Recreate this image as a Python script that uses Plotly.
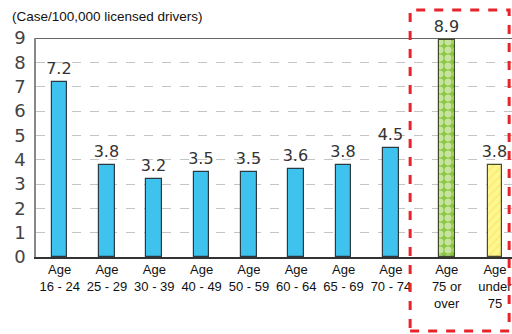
import plotly.graph_objects as go

categories = ["Age<br>16 - 24", "Age<br>25 - 29", "Age<br>30 - 39", "Age<br>40 - 49",
              "Age<br>50 - 59", "Age<br>60 - 64", "Age<br>65 - 69", "Age<br>70 - 74",
              "Age<br>75 or<br>over", "Age<br>under<br>75"]
values = [7.2, 3.8, 3.2, 3.5, 3.5, 3.6, 3.8, 4.5, 8.9, 3.8]
positions = [0, 1, 2, 3, 4, 5, 6, 7, 8.18, 9.2]
y_ticks = [0, 1, 2, 3, 4, 5, 6, 7, 8, 9]

label_font = dict(family="DejaVu Sans", size=16, color="#333")

fig = go.Figure()

fig.add_trace(go.Bar(
    x=positions[:8], y=values[:8], width=0.33,
    marker=dict(color="#3EC3EE", line=dict(color="#2B3A40", width=1.2)),
    text=[f"{v:.1f}" for v in values[:8]], textposition="outside",
    textfont=label_font, constraintext="none",
    cliponaxis=False, showlegend=False,
))
fig.add_trace(go.Bar(
    x=[positions[8]], y=[values[8]], width=0.33,
    marker=dict(color="#8DC63F", line=dict(color="#3A4A2A", width=1.2),
                pattern=dict(shape=".", bgcolor="#8DC63F", fgcolor="#FFFFFF",
                             size=8, solidity=0.6, fillmode="overlay")),
    text=[f"{values[8]:.1f}"], textposition="outside",
    textfont=label_font, constraintext="none",
    cliponaxis=False, showlegend=False,
))
fig.add_trace(go.Bar(
    x=[positions[9]], y=[values[9]], width=0.30,
    marker=dict(color="#FFF68F", line=dict(color="#4A4A30", width=1.2),
                pattern=dict(shape="/", bgcolor="#FFF68F", fgcolor="#F2E35A",
                             size=6, solidity=0.3, fillmode="overlay")),
    text=[f"{values[9]:.1f}"], textposition="outside",
    textfont=label_font, constraintext="none",
    cliponaxis=False, showlegend=False,
))

fig.update_layout(
    width=512, height=334,
    margin=dict(l=36, r=0, t=38, b=77),
    paper_bgcolor="white", plot_bgcolor="white",
    bargap=0,
    xaxis=dict(
        range=[-0.5, 9.56], tickmode="array", tickvals=positions, ticktext=categories,
        tickfont=dict(family="Liberation Sans, Arial", size=13, color="#111"),
        showline=True, linecolor="#333", linewidth=1.5, showgrid=False, zeroline=False,
        ticks="", fixedrange=True, ticklabeloverflow="allow",
    ),
    yaxis=dict(
        range=[0, 9], tickvals=y_ticks,
        tickfont=dict(family="DejaVu Sans", size=18, color="#444"),
        showline=True, linecolor="#888", linewidth=1.5,
        showgrid=True, gridcolor="#C4C4C4", griddash="dash", gridwidth=1,
        zeroline=False, ticks="", ticklabelstandoff=5,
    ),
    font=dict(family="Liberation Sans, Arial"),
    shapes=[
        dict(type="line", xref="paper", yref="y", x0=0, x1=1, y0=9, y1=9,
             line=dict(color="#333", width=1.5)),
        dict(type="rect", xref="paper", yref="paper", x0=0.786, x1=0.994, y0=-0.338, y1=1.128,
             line=dict(color="#E8232A", width=3, dash="dash")),
    ],
    annotations=[
        dict(text="(Case/100,000 licensed drivers)", xref="paper", yref="paper",
             x=-0.055, y=1.096, xanchor="left", yanchor="middle", showarrow=False,
             font=dict(family="Liberation Sans, Arial", size=13.5, color="#111")),
    ],
)

fig.write_html("out.html")
